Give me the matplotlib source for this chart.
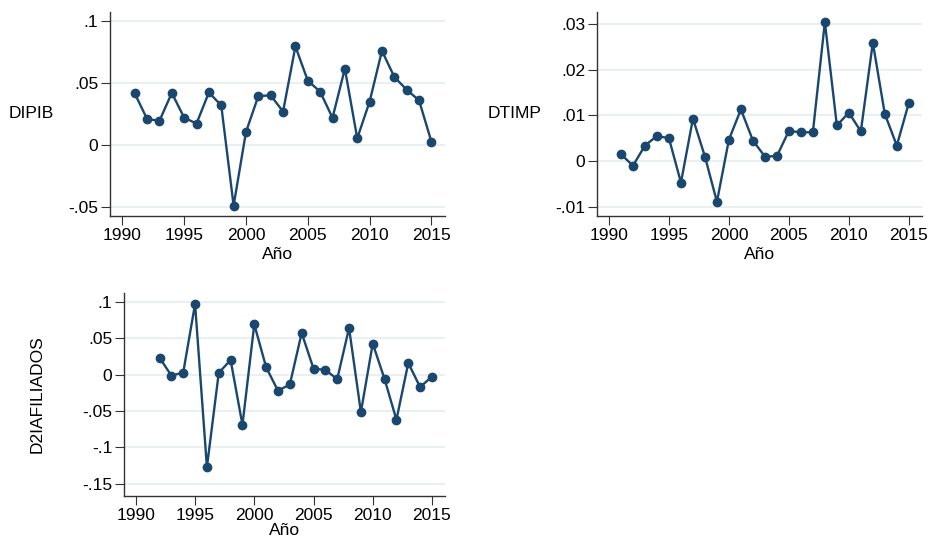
import numpy as np
import matplotlib
matplotlib.use('Agg')
import matplotlib.pyplot as plt

plt.rcParams['font.family'] = ['Liberation Sans', 'DejaVu Sans']

years_a = list(range(1991, 2016))
dipib = [0.0416, 0.021, 0.0195, 0.042, 0.022, 0.0173, 0.0424, 0.0319, -0.0489, 0.0105,
         0.0395, 0.040, 0.027, 0.0795, 0.0519, 0.043, 0.0219, 0.0616, 0.0054, 0.0349,
         0.076, 0.0549, 0.0446, 0.036, 0.0027]
dtimp = [0.0015, -0.0010, 0.0034, 0.0055, 0.0050, -0.0047, 0.0093, 0.0010, -0.0089, 0.0047,
         0.0113, 0.0045, 0.0010, 0.0011, 0.0066, 0.0063, 0.0063, 0.0304, 0.0078, 0.0106,
         0.0065, 0.0259, 0.0103, 0.0034, 0.0127]

years_b = list(range(1992, 2016))
d2iafiliados = [0.0231, -0.0014, 0.0027, 0.0968, -0.127, 0.0023, 0.0199, -0.069, 0.0688, 0.010,
                -0.0222, -0.0136, 0.057, 0.0081, 0.0063, -0.0063, 0.0638, -0.0516, 0.0425, -0.0063,
                -0.062, 0.0158, -0.0172, -0.0027]

xticks = [1990, 1995, 2000, 2005, 2010, 2015]
line_col = '#1a476f'
grid_col = '#e6eef0'
fs = 12.5

W, H = 929, 540
fig = plt.figure(figsize=(W / 100, H / 100), dpi=100)


def panel(box, x, y, ylabel, yticks, yticklabels, ylim, vertical=False, xpad=3):
    l, t, r, b = box
    ax = fig.add_axes([l / W, 1 - b / H, (r - l) / W, (b - t) / H])
    ax.plot(x, y, color=line_col, lw=1.7, marker='o', ms=6, mfc=line_col, mec=line_col)
    ax.set_xlim(1989.0, 2016.1)
    ax.set_ylim(*ylim)
    ax.set_xticks(xticks)
    ax.set_yticks(yticks)
    ax.set_yticklabels(yticklabels)
    ax.yaxis.grid(True, color=grid_col, lw=1.2)
    ax.set_axisbelow(True)
    for s in ['top', 'right']:
        ax.spines[s].set_visible(False)
    for s in ['left', 'bottom']:
        ax.spines[s].set_color('#333333')
        ax.spines[s].set_linewidth(1.0)
    ax.tick_params(labelsize=fs, length=6.5, color='#333333', pad=2)
    ax.set_xlabel('Año', fontsize=fs, labelpad=xpad)
    if vertical:
        ax.set_ylabel(ylabel, fontsize=fs, labelpad=27)
    else:
        ax.set_ylabel(ylabel, fontsize=fs, rotation=0, ha='right', va='center', labelpad=10)
    return ax


panel((110, 12, 445, 216), years_a, dipib, 'DIPIB',
      [-0.05, 0, 0.05, 0.1], ['-.05', '0', '.05', '.1'], (-0.0573, 0.1073))
panel((597, 12, 922, 216), years_a, dtimp, 'DTIMP',
      [-0.01, 0, 0.01, 0.02, 0.03], ['-.01', '0', '.01', '.02', '.03'], (-0.012, 0.0326))
panel((124, 293, 445, 496), years_b, d2iafiliados, 'D2IAFILIADOS',
      [-0.15, -0.1, -0.05, 0, 0.05, 0.1], ['-.15', '-.1', '-.05', '0', '.05', '.1'],
      (-0.1665, 0.1118), vertical=True, xpad=0)

fig.savefig('out.png', dpi=100, facecolor='white')
